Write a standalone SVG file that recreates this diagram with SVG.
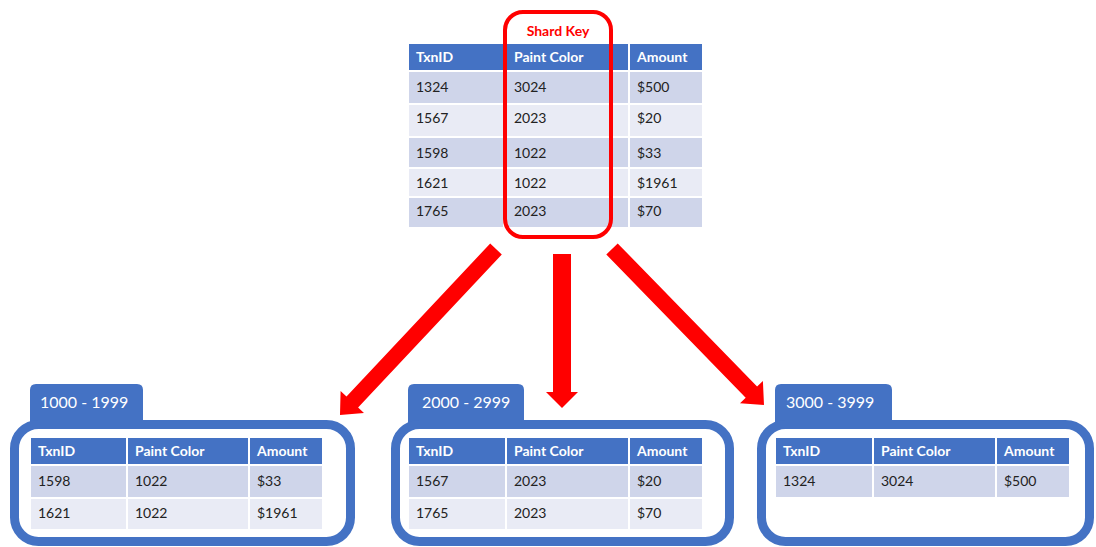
<svg xmlns="http://www.w3.org/2000/svg" width="1096" height="547" viewBox="0 0 1096 547">
<style>
.hd{fill:#4472c4;stroke:#fff;stroke-width:2}
.dk{fill:#cfd5ea;stroke:#fff;stroke-width:2}
.lt{fill:#e9ebf5;stroke:#fff;stroke-width:2}
.ht{font-family:Lato,"Liberation Sans",sans-serif;font-size:14px;font-weight:bold;fill:#fff}
.bt{font-family:Lato,"Liberation Sans",sans-serif;font-size:14px;fill:#222}
.tab{fill:#4472c4}
.tt{font-family:Lato,"Liberation Sans",sans-serif;font-size:16px;fill:#fff}
.box{fill:none;stroke:#4472c4;stroke-width:9}
.arr{fill:#ff0000}
</style>
<rect width="1096" height="547" fill="#fff"/>
<g id="source-table">
<rect class="hd" x="408" y="43" width="96" height="28"/>
<rect class="hd" x="504" y="43" width="125" height="28"/>
<rect class="hd" x="629" y="43" width="74" height="28"/>
<rect class="dk" x="408" y="71" width="96" height="33"/><rect class="dk" x="504" y="71" width="125" height="33"/><rect class="dk" x="629" y="71" width="74" height="33"/>
<rect class="lt" x="408" y="104" width="96" height="33"/><rect class="lt" x="504" y="104" width="125" height="33"/><rect class="lt" x="629" y="104" width="74" height="33"/>
<rect class="dk" x="408" y="137" width="96" height="31"/><rect class="dk" x="504" y="137" width="125" height="31"/><rect class="dk" x="629" y="137" width="74" height="31"/>
<rect class="lt" x="408" y="168" width="96" height="29"/><rect class="lt" x="504" y="168" width="125" height="29"/><rect class="lt" x="629" y="168" width="74" height="29"/>
<rect class="dk" x="408" y="197" width="96" height="31"/><rect class="dk" x="504" y="197" width="125" height="31"/><rect class="dk" x="629" y="197" width="74" height="31"/>
<text class="ht" x="416" y="62">TxnID</text><text class="ht" x="514" y="62">Paint Color</text><text class="ht" x="637" y="62">Amount</text>
<text class="bt" x="416" y="92">1324</text><text class="bt" x="514" y="92">3024</text><text class="bt" x="637" y="92">$500</text>
<text class="bt" x="416" y="123">1567</text><text class="bt" x="514" y="123">2023</text><text class="bt" x="637" y="123">$20</text>
<text class="bt" x="416" y="158">1598</text><text class="bt" x="514" y="158">1022</text><text class="bt" x="637" y="158">$33</text>
<text class="bt" x="416" y="188">1621</text><text class="bt" x="514" y="188">1022</text><text class="bt" x="637" y="188">$1961</text>
<text class="bt" x="416" y="216">1765</text><text class="bt" x="514" y="216">2023</text><text class="bt" x="637" y="216">$70</text>
</g>
<g id="shard-key">
<rect x="505" y="12" width="106" height="225" rx="18" fill="none" stroke="#ff0000" stroke-width="4"/>
<text x="558" y="36" text-anchor="middle" font-family="Lato,'Liberation Sans',sans-serif" font-size="14" font-weight="bold" fill="#ff0000">Shard Key</text>
</g>
<g id="connectors">
<polygon class="arr" points="490.2,243.5 501.8,254.5 358.1,407.4 364,412.9 340,415 340.6,390.9 346.5,396.4"/>
<polygon class="arr" points="553,254 571,254 571,392 578,392 562,408 546,392 553,392"/>
<polygon class="arr" points="617.7,243.4 606.3,254.6 745.7,397.7 740,403.3 764,405 762.9,380.9 757.1,386.5"/>
</g>
<g id="shard-1000">
<path class="tab" d="M30,428 V390 Q30,384 36,384 H137 Q143,384 143,390 V428 Z"/>
<rect class="box" x="14.5" y="424.5" width="336" height="117" rx="24"/>
<text class="tt" x="40" y="408">1000 - 1999</text>
<rect class="hd" x="30" y="437" width="97" height="28"/><rect class="hd" x="127" y="437" width="122" height="28"/><rect class="hd" x="249" y="437" width="74" height="28"/>
<rect class="dk" x="30" y="465" width="97" height="33"/><rect class="dk" x="127" y="465" width="122" height="33"/><rect class="dk" x="249" y="465" width="74" height="33"/>
<rect class="lt" x="30" y="498" width="97" height="32"/><rect class="lt" x="127" y="498" width="122" height="32"/><rect class="lt" x="249" y="498" width="74" height="32"/>
<text class="ht" x="38" y="456">TxnID</text><text class="ht" x="135" y="456">Paint Color</text><text class="ht" x="257" y="456">Amount</text>
<text class="bt" x="38" y="486">1598</text><text class="bt" x="135" y="486">1022</text><text class="bt" x="257" y="486">$33</text>
<text class="bt" x="38" y="518">1621</text><text class="bt" x="135" y="518">1022</text><text class="bt" x="257" y="518">$1961</text>
</g>
<g id="shard-2000">
<path class="tab" d="M408,428 V390 Q408,384 414,384 H518 Q524,384 524,390 V428 Z"/>
<rect class="box" x="395.5" y="424.5" width="334" height="117" rx="24"/>
<text class="tt" x="422" y="408">2000 - 2999</text>
<rect class="hd" x="408" y="437" width="98" height="28"/><rect class="hd" x="506" y="437" width="123" height="28"/><rect class="hd" x="629" y="437" width="74" height="28"/>
<rect class="dk" x="408" y="465" width="98" height="33"/><rect class="dk" x="506" y="465" width="123" height="33"/><rect class="dk" x="629" y="465" width="74" height="33"/>
<rect class="lt" x="408" y="498" width="98" height="32"/><rect class="lt" x="506" y="498" width="123" height="32"/><rect class="lt" x="629" y="498" width="74" height="32"/>
<text class="ht" x="416" y="456">TxnID</text><text class="ht" x="514" y="456">Paint Color</text><text class="ht" x="637" y="456">Amount</text>
<text class="bt" x="416" y="486">1567</text><text class="bt" x="514" y="486">2023</text><text class="bt" x="637" y="486">$20</text>
<text class="bt" x="416" y="518">1765</text><text class="bt" x="514" y="518">2023</text><text class="bt" x="637" y="518">$70</text>
</g>
<g id="shard-3000">
<path class="tab" d="M775,428 V390 Q775,384 781,384 H886 Q892,384 892,390 V428 Z"/>
<rect class="box" x="761.5" y="424.5" width="328" height="117" rx="24"/>
<text class="tt" x="786" y="408">3000 - 3999</text>
<rect class="hd" x="775" y="437" width="98" height="28"/><rect class="hd" x="873" y="437" width="123" height="28"/><rect class="hd" x="996" y="437" width="74" height="28"/>
<rect class="dk" x="775" y="465" width="98" height="33"/><rect class="dk" x="873" y="465" width="123" height="33"/><rect class="dk" x="996" y="465" width="74" height="33"/>
<text class="ht" x="783" y="456">TxnID</text><text class="ht" x="881" y="456">Paint Color</text><text class="ht" x="1004" y="456">Amount</text>
<text class="bt" x="783" y="486">1324</text><text class="bt" x="881" y="486">3024</text><text class="bt" x="1004" y="486">$500</text>
</g>
</svg>
